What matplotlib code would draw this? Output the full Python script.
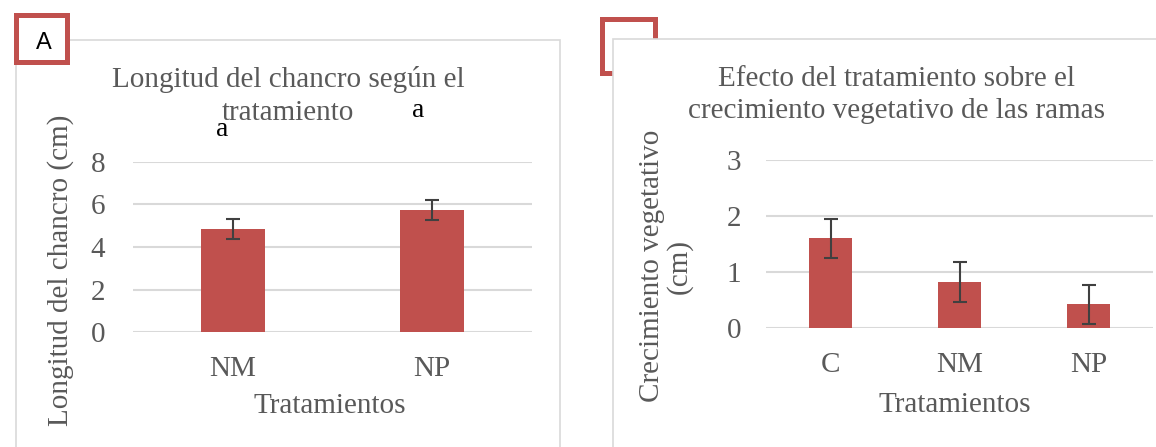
import matplotlib
matplotlib.use("Agg")
import matplotlib.pyplot as plt
from matplotlib.patches import Rectangle

# data
cat_a = ["NM", "NP"]
long_a = [4.85, 5.74]
err_a = [0.45, 0.47]
letras_a = ["a", "a"]

cat_b = ["C", "NM", "NP"]
crec_b = [1.6, 0.82, 0.42]
err_b = [0.35, 0.35, 0.35]

W, H = 1156, 447
ROJO = "#c0504d"
GRIS = "#595959"
plt.rcParams["font.family"] = ["Liberation Serif", "DejaVu Serif"]

fig = plt.figure(figsize=(W / 100, H / 100), dpi=100)

def caja(x0, y0, x1, y1, **kw):
    # rectangle given in pixel coords (top-left origin)
    r = Rectangle((x0 / W, 1 - y1 / H), (x1 - x0) / W, (y1 - y0) / H,
                  transform=fig.transFigure, **kw)
    fig.add_artist(r)

def ejes(x0, y0, x1, y1):
    return fig.add_axes([x0 / W, 1 - y1 / H, (x1 - x0) / W, (y1 - y0) / H])

# frames
caja(602, 19, 655, 73, facecolor="white", edgecolor=ROJO, lw=3.6, zorder=-3)
caja(613, 39, 1170, 460, facecolor="white", edgecolor="#d9d9d9", lw=1.2, zorder=-2)
caja(16, 40, 560, 460, facecolor="white", edgecolor="#d9d9d9", lw=1.2, zorder=-2)
caja(16, 15, 67, 62, facecolor="white", edgecolor=ROJO, lw=3.6, zorder=-1)
fig.text(44 / W, 1 - 43 / H, "A", ha="center", va="center", fontsize=17,
         color="black", family="Liberation Sans")

def estilo(ax, pad_y):
    ax.set_facecolor("none")
    for s in ax.spines.values():
        s.set_visible(False)
    ax.grid(axis="y", color="#d9d9d9", lw=1.5)
    ax.set_axisbelow(True)
    ax.tick_params(length=0, labelsize=21, labelcolor=GRIS)
    ax.tick_params(axis="y", pad=pad_y)
    ax.tick_params(axis="x", pad=17)

# panel A
ax1 = ejes(133, 162, 532, 332)
ax1.bar(range(len(cat_a)), long_a, width=0.32, color=ROJO, yerr=err_a,
        error_kw=dict(ecolor="#404040", elinewidth=1.5, capsize=5, capthick=1.5))
ax1.set_xlim(-0.5, len(cat_a) - 0.5)
ax1.set_ylim(0, 8)
ax1.set_yticks([0, 2, 4, 6, 8])
ax1.set_xticks(range(len(cat_a)))
ax1.set_xticklabels(cat_a)
estilo(ax1, 20)
ax1.set_xlabel("Tratamientos", fontsize=21, color=GRIS, va="center")
ax1.xaxis.set_label_coords((330 - 133) / 399, (332 - 406) / 170)
ax1.set_ylabel("Longitud del chancro (cm)", fontsize=21, color=GRIS, va="center")
ax1.yaxis.set_label_coords((61 - 133) / 399, (332 - 270) / 170)
fig.text(288 / W, 1 - 96 / H, "Longitud del chancro según el\ntratamiento", fontsize=21,
         color=GRIS, ha="center", va="center", linespacing=1.35)
ax1.text(-0.054, 9.55, letras_a[0], ha="center", va="center", fontsize=20, clip_on=False)
ax1.text(0.93, 10.4, letras_a[1], ha="center", va="center", fontsize=20, clip_on=False)

# panel B
ax2 = ejes(766, 160, 1153, 328)
ax2.bar(range(len(cat_b)), crec_b, width=0.33, color=ROJO, yerr=err_b,
        error_kw=dict(ecolor="#404040", elinewidth=1.5, capsize=5, capthick=1.5))
ax2.set_xlim(-0.5, len(cat_b) - 0.5)
ax2.set_ylim(0, 3)
ax2.set_yticks([0, 1, 2, 3])
ax2.set_xticks(range(len(cat_b)))
ax2.set_xticklabels(cat_b)
estilo(ax2, 18)
ax2.set_xlabel("Tratamientos", fontsize=21, color=GRIS, va="center")
ax2.xaxis.set_label_coords((955 - 766) / 387, (328 - 405) / 168)
ax2.set_ylabel("Crecimiento vegetativo\n(cm)", fontsize=21, color=GRIS,
               linespacing=1.05, va="center")
ax2.yaxis.set_label_coords((666 - 766) / 387, (328 - 266) / 168)
fig.text(897 / W, 1 - 95 / H, "Efecto del tratamiento sobre el\ncrecimiento vegetativo de las ramas",
         fontsize=21, color=GRIS, ha="center", va="center", linespacing=1.35)

fig.savefig("out.png", dpi=100)
